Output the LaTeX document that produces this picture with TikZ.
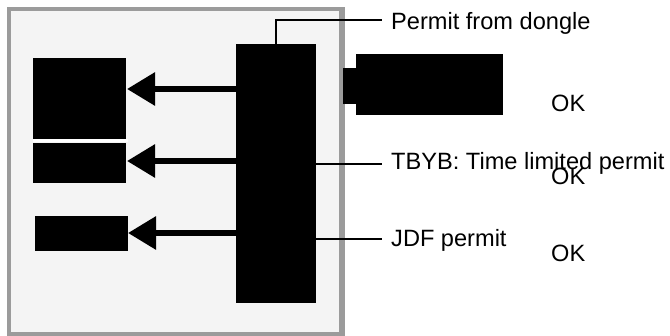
\documentclass[tikz,border=0pt]{standalone}
\usepackage{fontspec}
\setmainfont{Liberation Sans}
\usetikzlibrary{arrows.meta}
\definecolor{framegray}{HTML}{9B9B9B}
\definecolor{panelbg}{HTML}{F4F4F4}
\tikzset{
  blk/.style={fill=black, draw=none, inner sep=0pt, anchor=north west},
  arr/.style={line width=6pt, -{Triangle[length=28pt, width=32pt]}},
  conn/.style={line width=2pt},
  lbl/.style={anchor=base west, inner sep=0pt, font=\fontsize{23.6}{28}\selectfont},
}
\begin{document}
\begin{tikzpicture}[x=1pt, y=-1pt]
\useasboundingbox (0,0) rectangle (670,336);
% frame
\fill[framegray] (7,7) rectangle (345,336);
\fill[panelbg] (11,11) rectangle (339,332);
% left boxes
\node[blk, minimum width=93pt, minimum height=81pt] (b1) at (33,58) {};
\fill[white] (33,139.5) rectangle (128,142.5);
\node[blk, minimum width=93pt, minimum height=40pt] (b2) at (33,142.5) {};
\node[blk, minimum width=93pt, minimum height=35pt] (b3) at (35,216) {};
% big box
\node[blk, minimum width=80pt, minimum height=259pt] (big) at (236,44) {};
% dongle
\node[blk, minimum width=13pt, minimum height=36pt] (plug) at (343,68) {};
\node[blk, minimum width=147pt, minimum height=61pt] (dongle) at (356,54) {};
% arrow tips
\coordinate (t1) at (127,89);
\coordinate (t2) at (127,161);
\coordinate (t3) at (128,233);
\draw[arr] (t1 -| big.west) -- (t1);
\draw[arr] (t2 -| big.west) -- (t2);
\draw[arr] (t3 -| big.west) -- (t3);
% connectors
\coordinate (e1) at (382,20);
\coordinate (e2) at (382,164);
\coordinate (e3) at (382,239);
\draw[conn] (big.north -| 276,0) |- (e1);
\draw[conn] (e2 -| big.east) -- (e2);
\draw[conn] (e3 -| big.east) -- (e3);
% labels
\node[lbl] (l1) at (391,30) {Permit from dongle};
\node[lbl] (l2) at (391,170) {TBYB: Time limited permit};
\node[lbl] (l3) at (391,247) {JDF permit};
\node[lbl] (ok1) at (551,112) {OK};
\node[lbl] (ok2) at (551,185) {OK};
\node[lbl] (ok3) at (551,262) {OK};
\end{tikzpicture}
\end{document}
